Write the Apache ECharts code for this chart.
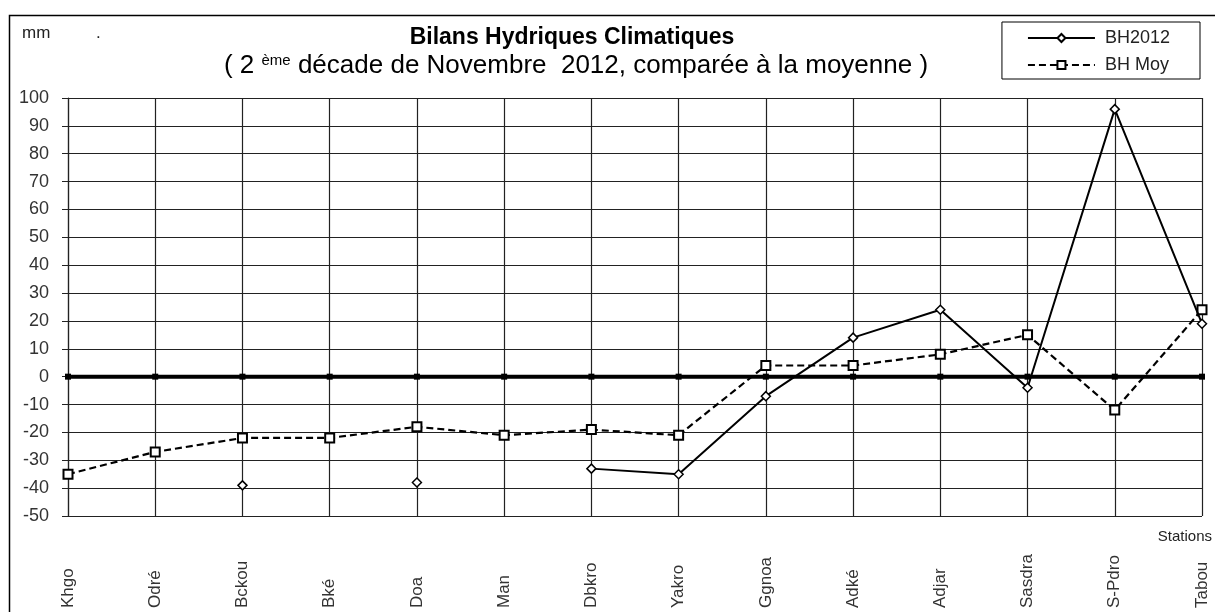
<!DOCTYPE html>
<html>
<head>
<meta charset="utf-8">
<script src="https://cdn.jsdelivr.net/npm/echarts@6/dist/echarts.min.js"></script>
<style>
html,body{margin:0;padding:0;background:#fff;}
#c{width:1215px;height:612px;}
</style>
</head>
<body>
<div id="c"></div>
<script>
var stations = ["Khgo","Odré","Bckou","Bké","Doa","Man","Dbkro","Yakro","Ggnoa","Adké","Adjar","Sasdra","S-Pdro","Tabou"];
var bh2012 = [null,null,-39,null,-38,null,-33,-35,-7,14,24,-4,96,19];
var bhMoy = [-35,-27,-22,-22,-18,-21,-19,-21,4,4,8,15,-12,24];
var zeroLine = [0,0,0,0,0,0,0,0,0,0,0,0,0,0];
var yTicks = {min:-50, max:100, interval:10};

var chart = echarts.init(document.getElementById('c'), null, {renderer:'canvas'});
var FONT = '"Liberation Sans", Arial, sans-serif';
chart.setOption({
  animation:false,
  backgroundColor:'#fff',
  textStyle:{fontFamily:FONT},
  grid:{left:68, right:13, top:98, bottom:96},
  legend:{
    right:15, top:22, orient:'vertical',
    data:[{name:'BH2012'},{name:'BH Moy'}],
    itemWidth:67, itemHeight:10, itemGap:9,
    borderColor:'#000', borderWidth:1, padding:[7,30,5,25],
    textStyle:{fontFamily:FONT, fontSize:18, color:'#222', padding:[0,0,0,5]}
  },
  xAxis:{
    type:'category', data:stations, boundaryGap:false,
    axisLine:{show:false},
    axisTick:{show:false},
    splitLine:{show:true, lineStyle:{color:'#222', width:1.2}},
    axisLabel:{rotate:90, align:'left', margin:92, interval:0, fontSize:17, color:'#333', fontFamily:FONT}
  },
  yAxis:{
    type:'value', min:yTicks.min, max:yTicks.max, interval:yTicks.interval,
    axisLine:{show:true, lineStyle:{color:'#222', width:1.2}},
    axisTick:{show:true, inside:false, length:6, lineStyle:{color:'#222'}},
    splitLine:{show:true, lineStyle:{color:'#222', width:1.2}},
    axisLabel:{margin:19, fontSize:18, color:'#333', fontFamily:FONT}
  },
  series:[
    {name:'zero', type:'line', data:zeroLine, symbol:'rect', symbolSize:6,
     lineStyle:{color:'#000', width:4}, itemStyle:{color:'#000'}, z:1, silent:true},
    {name:'BH Moy', type:'line', data:bhMoy, symbol:'rect', symbolSize:9,
     lineStyle:{color:'#000', width:2.2, type:[7,4]},
     itemStyle:{color:'#fff', borderColor:'#000', borderWidth:2}, z:3},
    {name:'BH2012', type:'line', data:bh2012, symbol:'diamond', symbolSize:9, showSymbol:true, connectNulls:false,
     lineStyle:{color:'#000', width:2},
     itemStyle:{color:'#fff', borderColor:'#000', borderWidth:1.5}, z:4}
  ],
  graphic:[
    {type:'rect', left:7, top:13, shape:{x:0,y:0,width:1220,height:620}, style:{fill:'none', stroke:'#000', lineWidth:1.5}, silent:true},
    {type:'text', left:22, top:25, style:{text:'mm', font:'17px '+FONT, fill:'#222'}},
    {type:'text', left:96, top:25, style:{text:'.', font:'17px '+FONT, fill:'#222'}},
    {type:'text', x:572, y:38, style:{text:'Bilans Hydriques Climatiques', font:'bold 23px '+FONT, fill:'#000', align:'center', verticalAlign:'middle'}},
    {type:'text', x:576, y:66, style:{
      text:'{n|( 2 }{s|ème}{n| décade de Novembre  2012, comparée à la moyenne )}',
      align:'center', verticalAlign:'middle',
      rich:{
        n:{font:'26px '+FONT, fill:'#000', verticalAlign:'bottom'},
        s:{font:'15px '+FONT, fill:'#000', verticalAlign:'top', padding:[0,0,10,0]}
      }
    }},
    {type:'text', right:3, top:529, style:{text:'Stations', font:'15px '+FONT, fill:'#222'}}
  ]
});
</script>
</body>
</html>
